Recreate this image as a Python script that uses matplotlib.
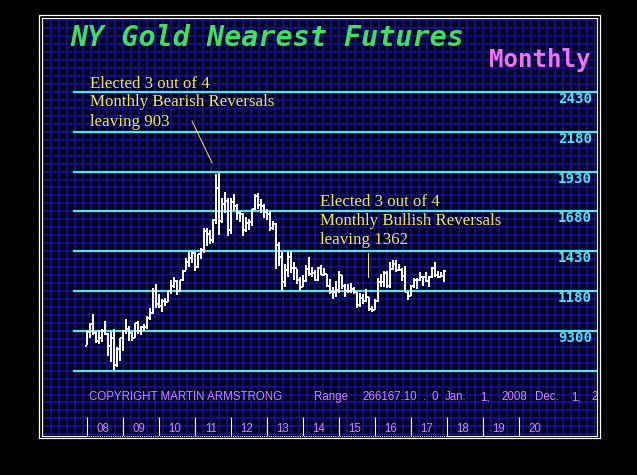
import matplotlib
matplotlib.use("Agg")
import matplotlib.pyplot as plt
from matplotlib.patches import Rectangle
from matplotlib.ticker import MultipleLocator
from matplotlib.transforms import offset_copy

# --- Monthly OHLC, NY gold nearest futures, Jan 2008 .. Dec 2017 ---
opens = [
    837, 923, 972, 917, 865, 886, 930, 913, 834, 884, 718, 816,      # 2008
    883, 927, 942, 917, 884, 979, 927, 955, 954, 1008, 1040, 1182,   # 2009
    1097, 1083, 1118, 1113, 1180, 1212, 1245, 1181, 1248, 1308, 1359, 1386,  # 2010
    1421, 1333, 1411, 1439, 1556, 1536, 1500, 1628, 1826, 1620, 1725, 1746,  # 2011
    1566, 1740, 1711, 1669, 1664, 1561, 1605, 1615, 1692, 1776, 1720, 1713,  # 2012
    1676, 1663, 1578, 1598, 1472, 1393, 1234, 1313, 1395, 1327, 1323, 1250,  # 2013
    1202, 1240, 1321, 1284, 1295, 1250, 1322, 1283, 1287, 1210, 1171, 1175,  # 2014
    1184, 1279, 1212, 1183, 1182, 1190, 1172, 1095, 1135, 1115, 1142, 1065,  # 2015
    1061, 1118, 1238, 1234, 1293, 1214, 1320, 1350, 1312, 1313, 1272, 1173,  # 2016
    1151, 1211, 1252, 1249, 1268, 1269, 1242, 1269, 1322, 1280, 1271, 1276,  # 2017
]
highs = [
    934, 976, 1033, 930, 936, 941, 991, 917, 930, 940, 830, 883,
    937, 1007, 960, 921, 981, 990, 960, 970, 1023, 1071, 1196, 1227,
    1162, 1127, 1138, 1181, 1249, 1265, 1247, 1251, 1311, 1388, 1424, 1432,
    1424, 1413, 1447, 1575, 1577, 1560, 1632, 1917, 1923, 1764, 1803, 1763,
    1764, 1792, 1725, 1680, 1668, 1642, 1630, 1697, 1790, 1798, 1755, 1725,
    1697, 1684, 1617, 1605, 1488, 1424, 1348, 1434, 1434, 1362, 1320, 1267,
    1280, 1345, 1392, 1331, 1315, 1332, 1345, 1325, 1288, 1255, 1205, 1240,
    1307, 1283, 1224, 1224, 1232, 1205, 1174, 1170, 1159, 1191, 1143, 1088,
    1128, 1263, 1287, 1306, 1304, 1362, 1377, 1375, 1352, 1326, 1337, 1180,
    1220, 1264, 1261, 1297, 1273, 1298, 1274, 1331, 1362, 1306, 1300, 1311,
]
lows = [
    838, 882, 902, 856, 846, 858, 906, 774, 736, 681, 700, 743,
    802, 907, 865, 865, 884, 910, 905, 931, 940, 1000, 1033, 1075,
    1072, 1045, 1088, 1111, 1164, 1201, 1157, 1176, 1242, 1313, 1330, 1356,
    1308, 1323, 1381, 1417, 1462, 1478, 1481, 1600, 1532, 1604, 1670, 1523,
    1540, 1687, 1627, 1614, 1527, 1550, 1564, 1591, 1690, 1693, 1672, 1636,
    1626, 1555, 1562, 1321, 1338, 1180, 1208, 1270, 1292, 1251, 1221, 1180,
    1203, 1238, 1277, 1268, 1240, 1241, 1281, 1273, 1204, 1161, 1131, 1142,
    1167, 1191, 1142, 1170, 1170, 1162, 1072, 1077, 1098, 1108, 1052, 1046,
    1062, 1111, 1208, 1206, 1199, 1200, 1310, 1300, 1303, 1241, 1171, 1122,
    1146, 1200, 1195, 1240, 1214, 1236, 1204, 1264, 1271, 1261, 1265, 1236,
]
closes = [
    923, 972, 917, 865, 886, 930, 913, 834, 884, 718, 816, 882,
    927, 942, 917, 884, 979, 927, 955, 954, 1008, 1040, 1182, 1096,
    1083, 1118, 1113, 1180, 1212, 1245, 1181, 1248, 1308, 1359, 1386, 1421,
    1333, 1411, 1439, 1556, 1536, 1500, 1628, 1826, 1620, 1725, 1746, 1566,
    1740, 1711, 1669, 1664, 1561, 1605, 1615, 1692, 1776, 1720, 1713, 1676,
    1663, 1578, 1598, 1472, 1393, 1234, 1313, 1395, 1327, 1323, 1250, 1202,
    1240, 1321, 1284, 1295, 1250, 1322, 1283, 1287, 1210, 1171, 1175, 1184,
    1279, 1212, 1183, 1182, 1190, 1172, 1095, 1135, 1115, 1142, 1065, 1061,
    1118, 1238, 1234, 1293, 1214, 1320, 1350, 1312, 1313, 1272, 1173, 1151,
    1211, 1252, 1249, 1268, 1269, 1242, 1269, 1322, 1280, 1271, 1276, 1303,
]

levels = [680, 930, 1180, 1430, 1680, 1930, 2180, 2430]
level_labels = ["", "9300", "1180", "1430", "1680", "1930", "2180", "2430"]
year_labels = ["08", "09", "10", "11", "12", "13", "14", "15", "16", "17", "18", "19", "20"]

bearish_note = ["Elected 3 out of 4", "Monthly Bearish Reversals", "leaving 903"]
bullish_note = ["Elected 3 out of 4", "Monthly Bullish Reversals", "leaving 1362"]

W, H = 637, 475
CYAN = "#4ee4f4"
YELLOW = "#f2e650"
PINK = "#d484f4"


def px(x, y):
    # pixel position -> figure fraction
    return x / W, 1 - y / H


fig = plt.figure(figsize=(W / 100, H / 100), dpi=100, facecolor="black")

# outer white frame
fig.patches.append(Rectangle(px(39, 438), (600 - 39) / W, (438 - 15) / H,
                             transform=fig.transFigure, fill=False,
                             ec="white", lw=0.9))

l, b = px(42, 436)
ax = fig.add_axes([l, b, 555 / W, 418 / H])
ax.set_facecolor("#00001c")
ax.set_xlim(-15, 170)
ax.set_ylim(269.4, 2894.4)
for s in ax.spines.values():
    s.set_color("white")
    s.set_linewidth(0.8)

# blue grid
ax.xaxis.set_major_locator(MultipleLocator(8 / 3, offset=-1.233))
ax.yaxis.set_major_locator(MultipleLocator(50, offset=30))
ax.grid(True, color="#1414a0", lw=1.1)
ax.set_axisbelow(True)
ax.tick_params(length=0, labelbottom=False, labelleft=False)

# cyan price levels with labels
lab_tr = offset_copy(ax.get_yaxis_transform(), fig=fig, y=-7, units="dots")
for lvl, lbl in zip(levels, level_labels):
    ax.axhline(lvl, xmin=(74 - 42) / 555, xmax=1, color=CYAN, lw=1.6, zorder=2)
    if lbl:
        ax.text(0.991, lvl, lbl, transform=lab_tr, ha="right", va="center",
                color=CYAN, family="DejaVu Sans Mono", weight="bold", fontsize=10.2)

# OHLC bars
months = list(range(len(opens)))
ax.vlines(months, lows, highs, color="white", lw=1.4, zorder=3)
ax.hlines(opens, [m - 0.7 for m in months], months, color="white", lw=1.3, zorder=3)
ax.hlines(closes, months, [m + 0.7 for m in months], color="white", lw=1.3, zorder=3)

# year ticks along the bottom
year_starts = [12 * i for i in range(len(year_labels))]
xtr = ax.get_xaxis_transform()
ax.vlines(year_starts, 0, 19 / 418, transform=xtr, color="white", lw=0.8, zorder=4)
ax.plot([year_starts[0], year_starts[10]], [0, 0], transform=xtr, color="black",
        ls=(0, (1, 1)), lw=0.8, clip_on=False, zorder=5)
for ys, lbl in zip(year_starts, year_labels):
    ax.text(ys + 5.3, 7 / 418, lbl, transform=xtr, ha="center", va="center",
            color=PINK, family="Liberation Sans", fontsize=8.3)

# copyright / range line
copy_tokens = [("COPYRIGHT MARTIN ARMSTRONG", 88.6), ("Range", 314), ("266167.10", 362),
               (".", 423), ("0", 432), ("Jan.", 445), ("1,", 480), ("2008", 501),
               ("Dec.", 535), ("1,", 571), ("2", 591.5)]
for tok, x in copy_tokens:
    ax.text(*px(x, 397), tok, transform=fig.transFigure, ha="left", va="center",
            color=PINK, family="Liberation Sans", fontsize=8.3, clip_on=True)

# titles
ax.text(*px(70, 38), "NY Gold Nearest Futures", transform=fig.transFigure,
        ha="left", va="center", color="#3ee05c", family="DejaVu Sans Mono",
        weight="bold", style="oblique", fontsize=20.4)
ax.text(*px(591, 60), "Monthly", transform=fig.transFigure, ha="right", va="center",
        color="#f070f0", family="DejaVu Sans Mono", weight="bold", fontsize=17.4)

# annotations
for i, line in enumerate(bearish_note):
    ax.text(*px(90, 87.5 + 19 * i), line, transform=fig.transFigure, ha="left",
            va="baseline", color=YELLOW, family="Liberation Serif", fontsize=12.2)
for i, line in enumerate(bullish_note):
    ax.text(*px(320.5, 206 + 19 * i), line, transform=fig.transFigure, ha="left",
            va="baseline", color=YELLOW, family="Liberation Serif", fontsize=12.2)
ax.plot([35, 41.7], [2248, 1984], color=YELLOW, lw=0.7, zorder=4)
ax.plot([93.7, 93.7], [1418, 1268], color=YELLOW, lw=0.8, zorder=4)

fig.savefig("out.png", dpi=100, facecolor="black")
